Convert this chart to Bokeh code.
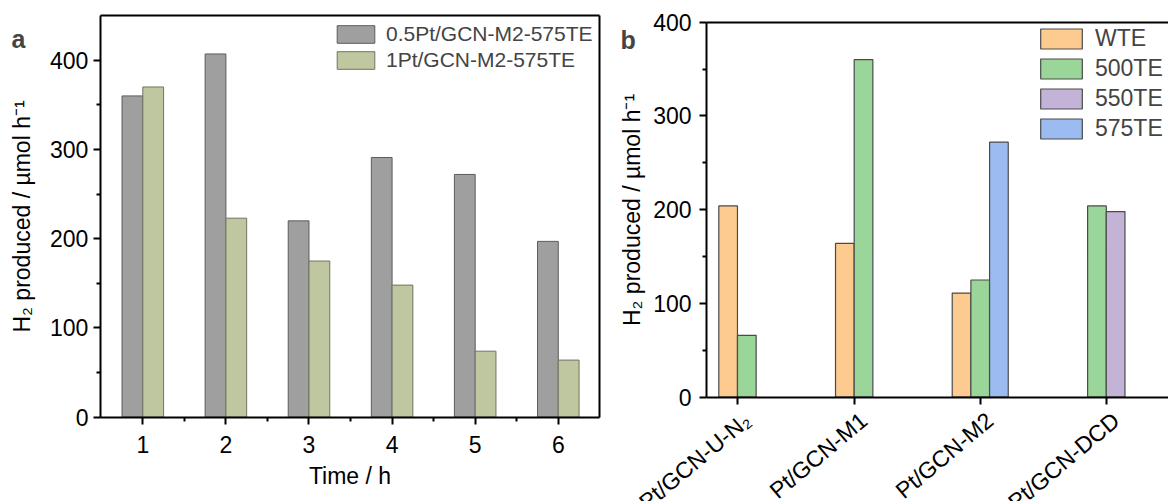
import math
from bokeh.plotting import figure
from bokeh.models import (ColumnDataSource, FixedTicker, Range1d, Legend, LegendItem,
                          LinearAxis, Label, CustomJSTickFormatter)
from bokeh.layouts import row
from bokeh.embed import file_html
from bokeh.resources import INLINE
from bokeh.transform import dodge

# ---------------- data: panel a ----------------
time_h = [1, 2, 3, 4, 5, 6]
pt05_values = [360, 407, 220, 291, 272, 197]
pt1_values = [370, 223, 175, 148, 74, 64]
series_a_names = ["0.5Pt/GCN-M2-575TE", "1Pt/GCN-M2-575TE"]
yticks_a = [0, 100, 200, 300, 400]

# ---------------- data: panel b ----------------
catalysts = ["Pt/GCN-U-N\u2082", "Pt/GCN-M1", "Pt/GCN-M2", "Pt/GCN-DCD"]
wte_values = [204, 164, 111, None]
te500_values = [66, 360, 125, 204]
te550_values = [None, None, None, 198]
te575_values = [None, None, 272, None]
series_b_names = ["WTE", "500TE", "550TE", "575TE"]
yticks_b = [0, 100, 200, 300, 400]

FONT = "Liberation Sans"
FS = "23px"
YLABEL = "H\u2082 produced / \u00b5mol h\u207b\u00b9"


def style_axis(ax, tick_out=7, minor_out=4, standoff=6, label_standoff=13):
    ax.axis_line_width = 2
    ax.axis_line_color = "black"
    ax.major_tick_in = 0
    ax.major_tick_out = tick_out
    ax.minor_tick_in = 0
    ax.minor_tick_out = minor_out
    ax.major_tick_line_width = 2
    ax.minor_tick_line_width = 2
    ax.major_label_text_font = FONT
    ax.major_label_text_font_size = FS
    ax.major_label_text_color = "black"
    ax.major_label_standoff = standoff
    ax.axis_label_text_font = FONT
    ax.axis_label_text_font_size = FS
    ax.axis_label_text_font_style = "normal"
    ax.axis_label_text_color = "black"
    ax.axis_label_standoff = label_standoff


def frame_line(loc, bounds):
    return LinearAxis(fixed_location=loc, bounds=bounds, ticker=FixedTicker(ticks=[]),
                      axis_line_width=2, axis_line_color="black",
                      major_tick_line_color=None, minor_tick_line_color=None,
                      major_label_text_font_size="0px", major_label_standoff=0)


# ================= panel a =================
XL_A, XR_A, YT_A = 0.49, 6.5, 450          # plot-box limits of panel a
pa = figure(width=601, height=501, x_range=Range1d(-0.7124, 6.52),
            y_range=Range1d(-94.45, 466.9),
            output_backend="svg", toolbar_location=None, min_border=0)
pa.grid.visible = False
pa.outline_line_color = None

src_a = ColumnDataSource(dict(t=time_h, a=pt05_values, b=pt1_values))
ra1 = pa.vbar(x=dodge("t", -0.125), top="a", width=0.25, source=src_a,
              fill_color="#9f9f9f", line_color="#5c5c5c", line_width=1)
ra2 = pa.vbar(x=dodge("t", 0.125), top="b", width=0.25, source=src_a,
              fill_color="#bfc7a1", line_color="#6f7560", line_width=1)

xa = pa.xaxis[0]
ya = pa.yaxis[0]
xa.ticker = FixedTicker(ticks=time_h, minor_ticks=[t + 0.5 for t in time_h[:-1]])
ya.ticker = FixedTicker(ticks=yticks_a, minor_ticks=[v + 50 for v in yticks_a[:-1]])
xa.fixed_location = 0
xa.bounds = (XL_A, XR_A)
ya.fixed_location = XL_A
ya.bounds = (0, YT_A)
xa.axis_label = "Time / h"
ya.axis_label = YLABEL
style_axis(xa, standoff=12, label_standoff=6)
style_axis(ya, standoff=5, label_standoff=12)
pa.add_layout(frame_line(YT_A, (XL_A, XR_A)), "above")
pa.add_layout(frame_line(XR_A, (0, YT_A)), "right")

leg_a = Legend(items=[LegendItem(label=series_a_names[0], renderers=[ra1]),
                      LegendItem(label=series_a_names[1], renderers=[ra2])],
               location=(332, 429), glyph_width=47, glyph_height=22, label_height=22,
               spacing=2, padding=0, margin=0, border_line_color=None,
               background_fill_alpha=0, label_standoff=7,
               label_text_font=FONT, label_text_font_size="21px")
pa.add_layout(leg_a)

pa.add_layout(Label(x=XL_A, y=YT_A, x_offset=-89, y_offset=-23, text="a",
                    text_font=FONT, text_font_size="25px", text_font_style="bold",
                    text_baseline="alphabetic", text_align="left"))

# ================= panel b =================
XL_B, XR_B, YT_B = -0.105, 3.9, 400         # plot-box limits of panel b
pb = figure(width=567, height=501, x_range=Range1d(-1.005, 3.853),
            y_range=Range1d(-111.25, 423.1),
            output_backend="svg", toolbar_location=None, min_border=0)
pb.grid.visible = False
pb.outline_line_color = None

colors_b = ["#fdcb8f", "#9ad59a", "#c3b3d6", "#9cbcf1"]
slot_of = {"WTE": 0, "500TE": 1, "550TE": 2, "575TE": 2}
BW = 0.16
group_centers = [[] for _ in catalysts]
items_b = []
for name, vals, col in zip(series_b_names,
                           [wte_values, te500_values, te550_values, te575_values],
                           colors_b):
    xs, tops = [], []
    for i, v in enumerate(vals):
        if v is None:
            continue
        xc = i + (slot_of[name] + 0.5) * BW
        xs.append(xc)
        tops.append(v)
        group_centers[i].append(xc)
    r = pb.vbar(x=xs, top=tops, width=BW, fill_color=col, line_color="#4a4a4a",
                line_width=1.2)
    items_b.append(LegendItem(label=name, renderers=[r]))

tick_pos = [sum(c) / len(c) for c in group_centers]

xb = pb.xaxis[0]
yb = pb.yaxis[0]
xb.ticker = FixedTicker(ticks=tick_pos)
xb.fixed_location = 0
xb.bounds = (XL_B, XR_B)
style_axis(xb, standoff=0)
xb.major_label_text_font_size = "0px"
yb.ticker = FixedTicker(ticks=yticks_b, minor_ticks=[v + 50 for v in yticks_b[:-1]])
yb.fixed_location = XL_B
yb.bounds = (0, YT_B)
yb.axis_label = YLABEL
style_axis(yb, standoff=8, label_standoff=5)

# category names, rotated like the reference
LABEL_SHIFT = 0.083
name_axis = LinearAxis(fixed_location=0,
                       ticker=FixedTicker(ticks=[t + LABEL_SHIFT for t in tick_pos]),
                       formatter=CustomJSTickFormatter(args=dict(names=catalysts),
                                                       code="return names[index]"),
                       axis_line_color=None, major_tick_line_color=None,
                       minor_tick_line_color=None, major_tick_out=0, minor_tick_out=0,
                       major_label_standoff=20,
                       major_label_orientation=math.radians(40),
                       major_label_text_font=FONT, major_label_text_font_size=FS,
                       major_label_text_color="black")
pb.add_layout(name_axis, "below")
pb.add_layout(frame_line(YT_B, (XL_B, XR_B)), "above")

leg_b = Legend(items=items_b, location=(434, 359), glyph_width=52, glyph_height=25,
               label_height=25, spacing=3, padding=0, margin=0, border_line_color=None,
               background_fill_alpha=0, label_standoff=8,
               label_text_font=FONT, label_text_font_size=FS)
pb.add_layout(leg_b)

pb.add_layout(Label(x=XL_B, y=YT_B, x_offset=-86, y_offset=-18, text="b",
                    text_font=FONT, text_font_size="25px", text_font_style="bold",
                    text_baseline="alphabetic", text_align="left"))

layout = row(pa, pb, spacing=0)
open("out.html", "w").write(file_html(layout, INLINE))
